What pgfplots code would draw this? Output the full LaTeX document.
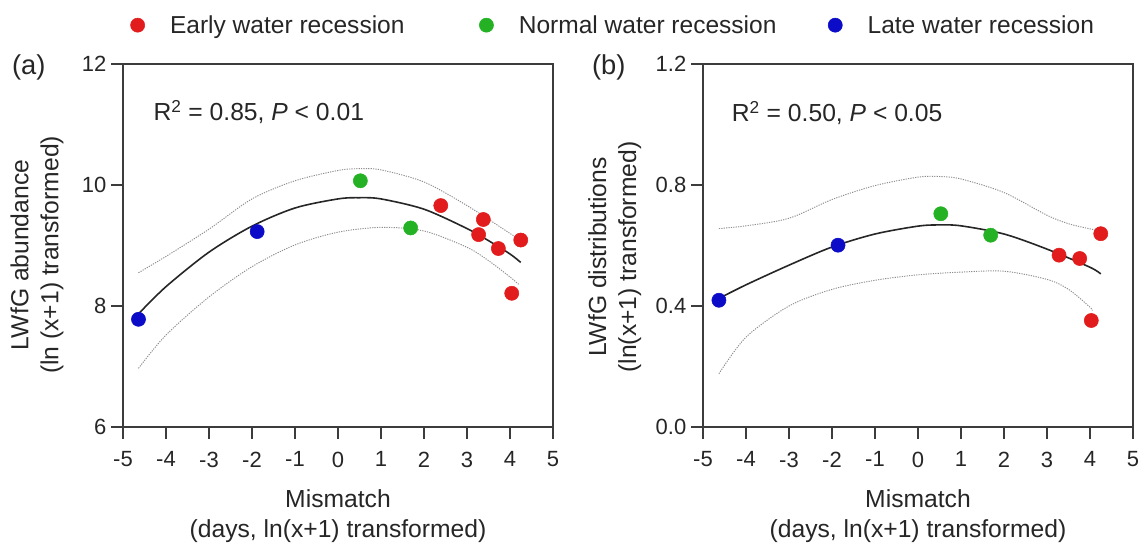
\documentclass[border=0pt]{standalone}
\usepackage{pgfplots}
\pgfplotsset{compat=1.18}
\usepackage{fontspec}
\setmainfont{Liberation Sans}
\definecolor{cred}{RGB}{226,28,28}
\definecolor{cgreen}{RGB}{36,178,36}
\definecolor{cblue}{RGB}{12,12,200}
\definecolor{axgray}{RGB}{60,60,60}
\begin{document}
\begin{tikzpicture}
\useasboundingbox (0,0) rectangle (858pt,408.75pt);
\pgfplotsset{
  every axis/.append style={
    scale only axis, width=322.5pt, height=272.25pt,
    axis line style={axgray, line width=1.2pt},
    tick style={axgray, line width=1.2pt},
    major tick length=9pt,
    tick align=outside, xtick pos=lower, ytick pos=left,
    /pgf/number format/assume math mode=true,
    tick label style={font=\fontsize{16.5}{18}\selectfont, text=black!85},
    xticklabel style={yshift=-6pt},
    label style={font=\fontsize{18.5}{22.5}\selectfont, text=black!85, align=center},
    xmin=-5, xmax=5, xtick={-5,-4,...,5},
    xlabel={Mismatch\\(days, ln(x+1) transformed)},
    xlabel style={at={(axis description cs:0.5,-0.246)}, anchor=center},
    clip=false,
  },
  fitline/.style={no marks, smooth, line width=1.2pt, color=black!85, forget plot},
  band/.style={no marks, smooth, line width=0.7pt, color=black!45, dash pattern=on 0.9pt off 0.9pt, forget plot},
  pts/.style={only marks, mark=*, mark size=5.3pt},
}
% ---------- panel (a)
\begin{axis}[at={(92.25pt,88.5pt)}, anchor=south west,
  ymin=6, ymax=12, ytick={6,8,10,12},
  ylabel={LWfG abundance\\(ln (x+1) transformed)},
  ylabel style={at={(axis description cs:-0.2,0.474)}, anchor=center},
  legend columns=3,
  legend style={draw=none, fill=none, inner sep=0pt,
    at={(0.017,1.107)}, anchor=west,
    font=\fontsize{18.4}{20}\selectfont, text=black!85,
    /tikz/every odd column/.append style={column sep=17pt},
    /tikz/every even column/.append style={column sep=0pt}},
  legend image code/.code={\draw[mark repeat=2,mark phase=2,#1] plot coordinates {(-5pt,0pt) (0pt,0pt) (5pt,0pt)};},
]
\addplot[band] coordinates {(-4.64,8.55) (-4,8.82) (-3,9.27) (-2,9.77) (-1,10.07) (0,10.24) (0.5,10.27) (1,10.25) (2,10.05) (3,9.66) (4,9.20) (4.25,9.09)};
\addplot[band] coordinates {(-4.64,6.97) (-4,7.52) (-3,8.15) (-2,8.65) (-1,9.01) (0,9.22) (1,9.30) (2,9.24) (3,8.97) (3.5,8.75) (4,8.48) (4.2,8.36)};
\addplot[fitline] coordinates {(-4.64,7.87) (-4,8.32) (-3,8.89) (-2,9.32) (-1,9.62) (0,9.77) (0.5,9.79) (1,9.77) (2,9.60) (3,9.28) (3.5,9.08) (4,8.86) (4.25,8.72)};
\addplot[pts, cred] coordinates {(2.39,9.66) (3.38,9.43) (3.27,9.18) (3.73,8.95) (4.25,9.09) (4.04,8.21)};
\addplot[pts, cgreen] coordinates {(0.52,10.07) (1.69,9.29)};
\addplot[pts, cblue] coordinates {(-4.64,7.78) (-1.88,9.23)};
\legend{\makebox[230pt][l]{Early water recession}, \makebox[230pt][l]{Normal water recession}, Late water recession}
\node[anchor=west, font=\fontsize{18.5}{20}\selectfont, text=black!85] at (axis description cs:0.06,0.868) {R\textsuperscript{2} = 0.85, \textit{P} < 0.01};
\node[font=\fontsize{20.5}{22}\selectfont, text=black!85] at (axis description cs:-0.219,0.99) {(a)};
\end{axis}
% ---------- panel (b)
\begin{axis}[at={(527.25pt,88.5pt)}, anchor=south west,
  ymin=0, ymax=1.2, ytick={0,0.4,0.8,1.2},
  yticklabel style={/pgf/number format/.cd, fixed, fixed zerofill, precision=1},
  ylabel={LWfG distributions\\(ln(x+1) transformed)},
  ylabel style={at={(axis description cs:-0.205,0.468)}, anchor=center},
]
\addplot[band] coordinates {(-4.63,0.656) (-4,0.665) (-3,0.69) (-2,0.752) (-1,0.798) (0,0.826) (0.5,0.828) (1,0.82) (2,0.775) (3,0.70) (3.5,0.672) (4,0.655) (4.25,0.648)};
\addplot[band] coordinates {(-4.63,0.176) (-4,0.297) (-3,0.40) (-2,0.455) (-1,0.485) (0,0.503) (1,0.512) (2,0.515) (3,0.488) (3.5,0.455) (4,0.396) (4.05,0.385)};
\addplot[fitline] coordinates {(-4.63,0.425) (-4,0.47) (-3,0.535) (-2,0.595) (-1,0.638) (0,0.664) (0.5,0.668) (1,0.665) (2,0.638) (3,0.588) (4,0.528) (4.25,0.506)};
\addplot[pts, cred] coordinates {(3.28,0.568) (3.76,0.557) (4.25,0.639) (4.03,0.352)};
\addplot[pts, cgreen] coordinates {(0.53,0.705) (1.69,0.634)};
\addplot[pts, cblue] coordinates {(-4.63,0.419) (-1.86,0.601)};
\node[anchor=west, font=\fontsize{18.5}{20}\selectfont, text=black!85] at (axis description cs:0.056,0.865) {R\textsuperscript{2} = 0.50, \textit{P} < 0.05};
\node[font=\fontsize{20.5}{22}\selectfont, text=black!85] at (axis description cs:-0.219,0.99) {(b)};
\end{axis}
\end{tikzpicture}
\end{document}
